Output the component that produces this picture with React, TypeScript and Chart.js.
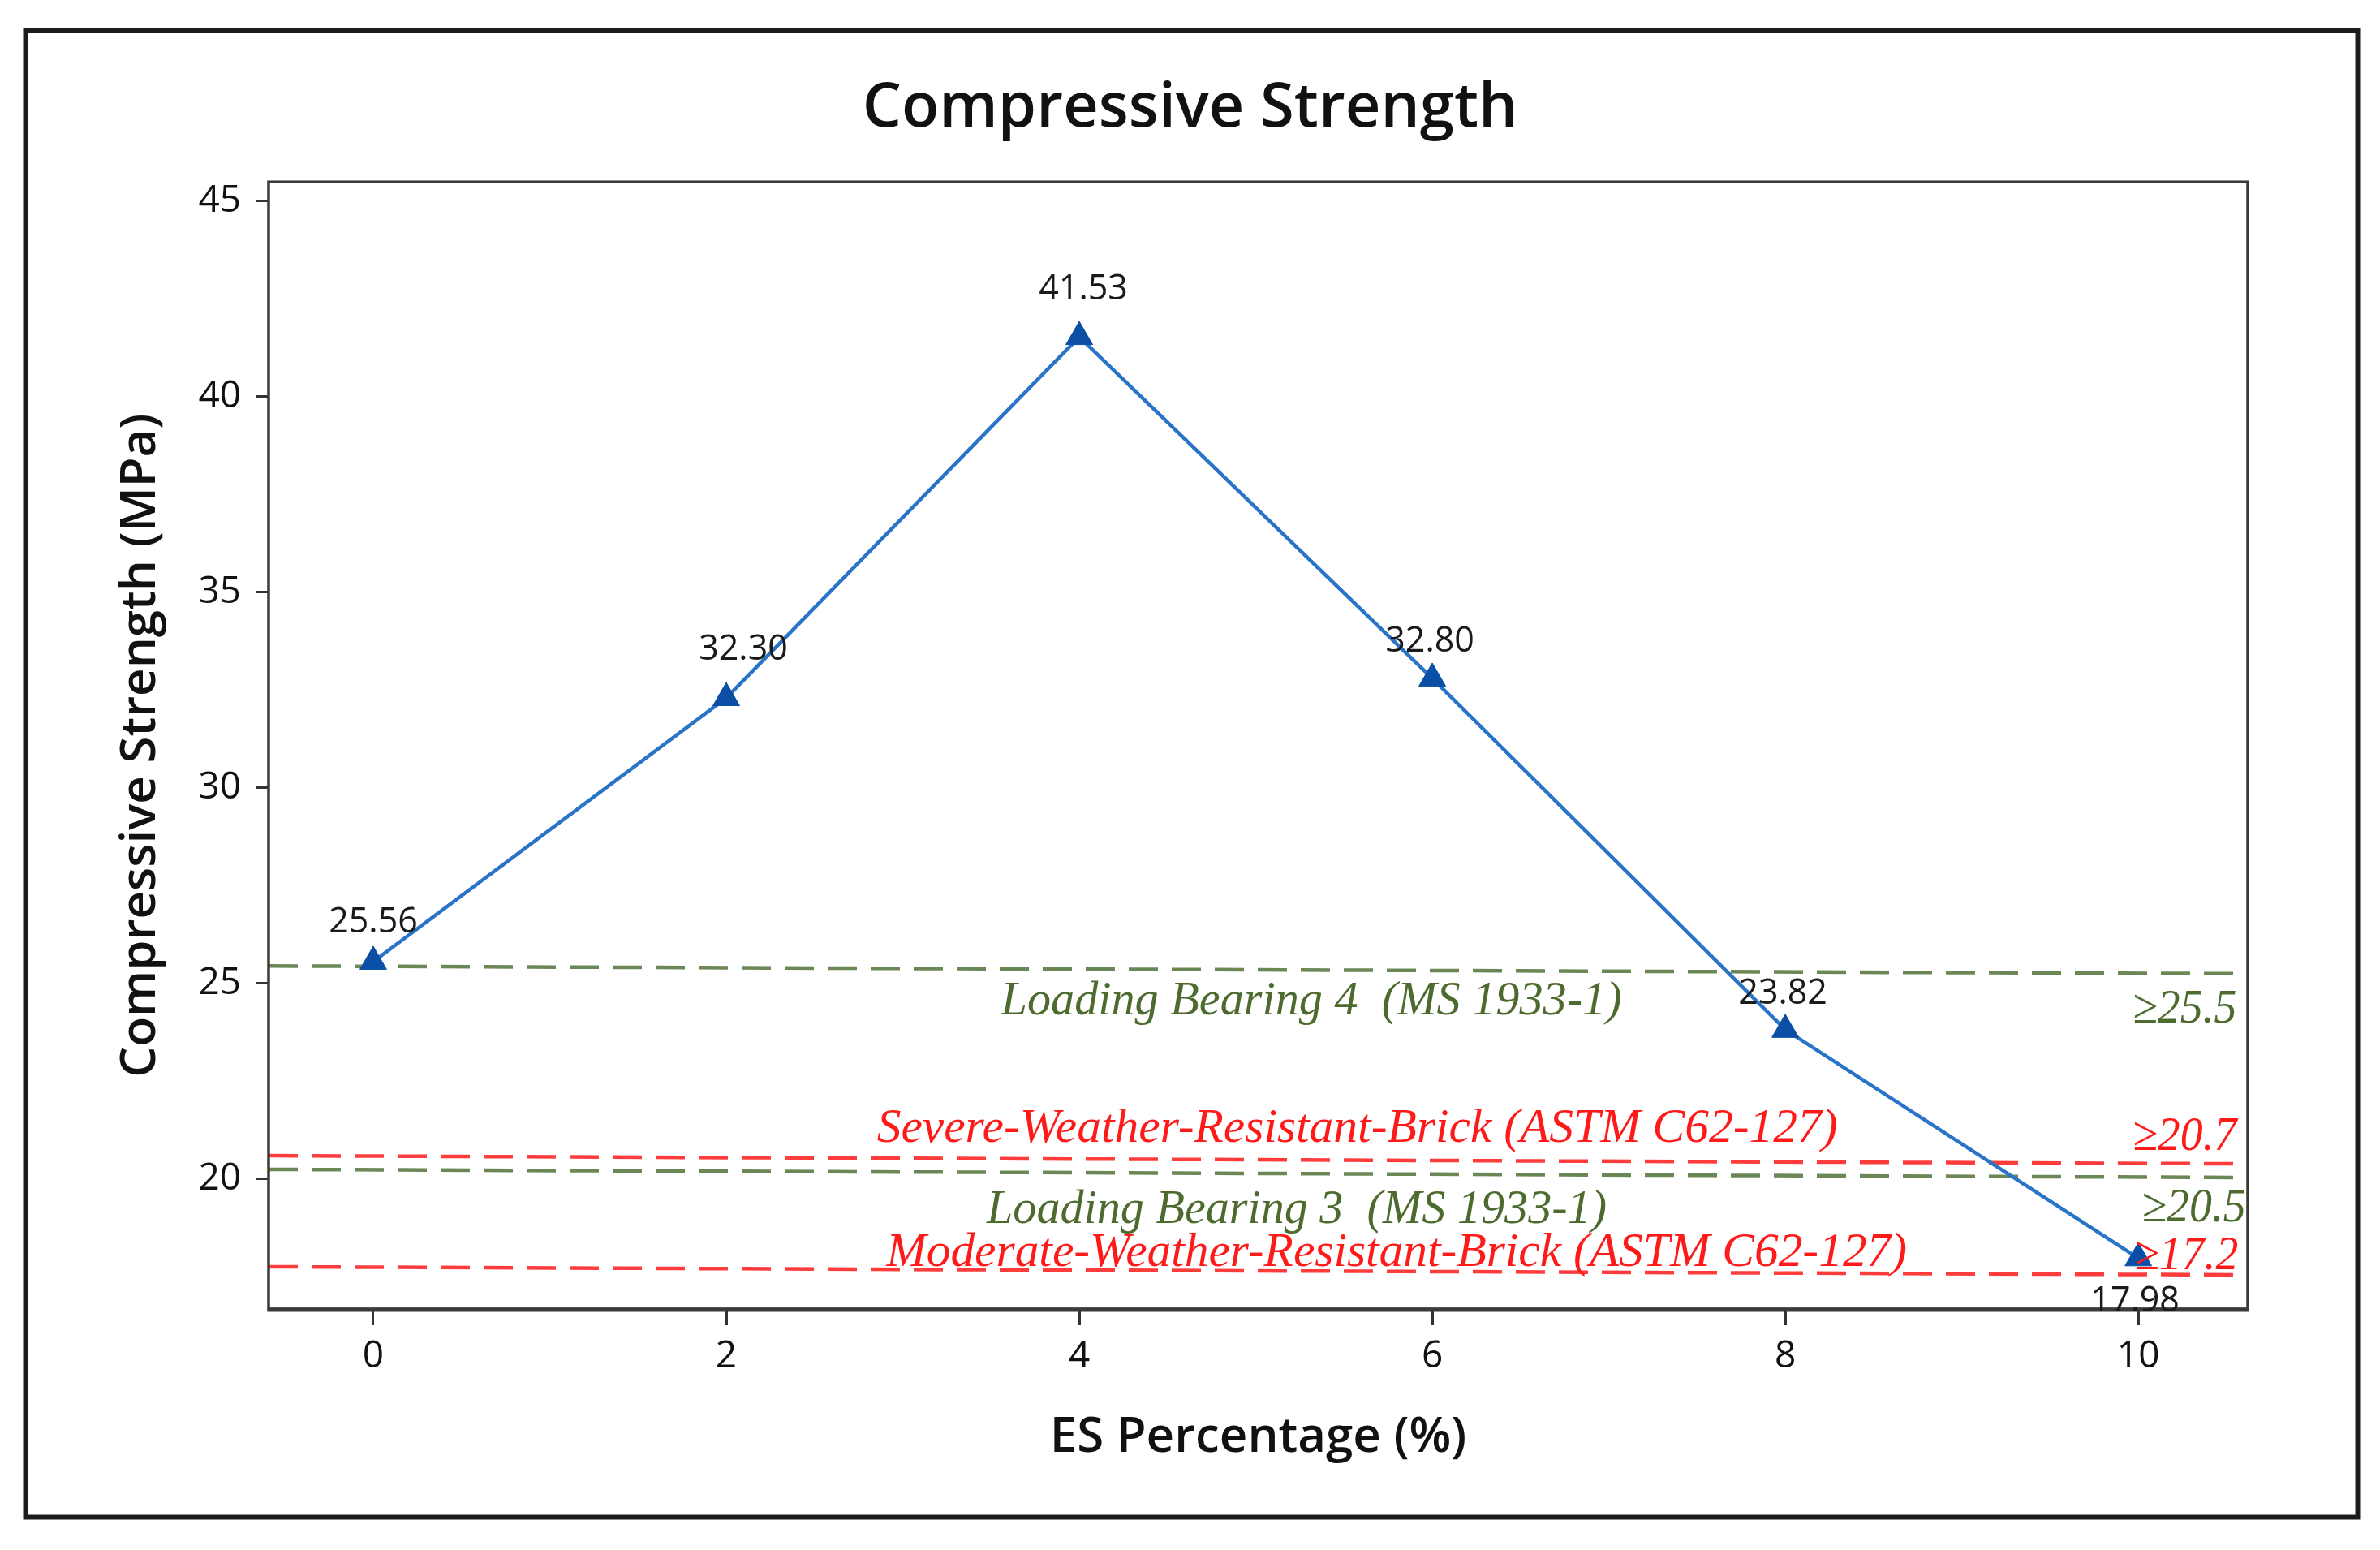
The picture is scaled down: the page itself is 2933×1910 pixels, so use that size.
import React, { useEffect, useRef } from "react";
import { Chart, registerables } from "chart.js";

Chart.register(...registerables);

// ---------------- data ----------------
const esPercent = [0, 2, 4, 6, 8, 10];
const strength = [25.56, 32.3, 41.53, 32.8, 23.82, 17.98];

const xTicks = [0, 2, 4, 6, 8, 10];
const yTicks = [20, 25, 30, 35, 40, 45];
const xRange = [-0.593, 10.62];
const yRange = [16.68, 45.49];

// reference (standard) lines: value at left edge and at right edge of the plot
const refNames = [
  "Loading Bearing 4  (MS 1933-1)",
  "Severe-Weather-Resistant-Brick (ASTM C62-127)",
  "Loading Bearing 3  (MS 1933-1)",
  "Moderate-Weather-Resistant-Brick (ASTM C62-127)",
];
const refValueTexts = ["\u226525.5", "\u226520.7", "\u226520.5", "\u226517.2"];
const refStart = [25.45, 20.6, 20.25, 17.76];
const refEnd = [25.25, 20.39, 20.04, 17.55];
const refKinds = ["green", "red", "green", "red"];
// label anchors in data units
const refNameX = [5.315, 5.575, 5.232, 5.798];
const refNameY = [24.21, 20.95, 18.88, 17.78];
const refValueX = [9.968, 9.968, 10.02, 9.977];
const refValueY = [24.01, 20.75, 18.92, 17.7];

// ---------------- styles ----------------
const SANS = "'Open Sans', 'Noto Sans', sans-serif";
const SERIF = "'Liberation Serif', 'DejaVu Serif', serif";
const lineColors: Record<string, string> = { green: "#6b8756", red: "#ff3c3c" };
const textColors: Record<string, string> = { green: "#4d6b2f", red: "#ff1a1a" };
const refNameWidths = [765, 1184, 764, 1258];
const valueScaleX = 0.93;
// value-label offsets from their point (pixels)
const labelDx = [0, 21, 5, -3, -3, -4];
const labelDy = [-48, -59, -58, -45, -44, 53];

const decorPlugin = {
  id: "decor",
  beforeDraw(chart: any) {
    const ctx = chart.ctx;
    ctx.save();
    ctx.fillStyle = "#ffffff";
    ctx.fillRect(0, 0, chart.width, chart.height);
    ctx.strokeStyle = "#1c1c1c";
    ctx.lineWidth = 6;
    ctx.strokeRect(31.5, 38, 2874, 1831.5);
    ctx.restore();
  },
  afterDatasetsDraw(chart: any) {
    const ctx = chart.ctx;
    const a = chart.chartArea;
    const xs = chart.scales.x;
    const ys = chart.scales.y;

    // plot box
    ctx.save();
    ctx.strokeStyle = "#3a3a3a";
    ctx.lineWidth = 3.5;
    ctx.strokeRect(a.left, a.top, a.right - a.left, a.bottom - a.top);
    ctx.lineWidth = 5;
    ctx.beginPath();
    ctx.moveTo(a.left - 1.5, a.bottom + 1);
    ctx.lineTo(a.right + 1.5, a.bottom + 1);
    ctx.stroke();
    ctx.restore();

    // data labels
    ctx.save();
    ctx.font = `500 43px ${SANS}`;
    ctx.fillStyle = "#1a1a1a";
    ctx.textAlign = "center";
    ctx.textBaseline = "middle";
    strength.forEach((v, i) => {
      const px = xs.getPixelForValue(esPercent[i]);
      const py = ys.getPixelForValue(v);
      ctx.fillText(v.toFixed(2), px + labelDx[i], py + labelDy[i]);
    });
    ctx.restore();

    // annotation texts
    ctx.save();
    ctx.beginPath();
    ctx.rect(a.left, a.top, a.right - a.left, a.bottom - a.top);
    ctx.clip();
    ctx.font = `italic 60px ${SERIF}`;
    ctx.textBaseline = "alphabetic";
    refNames.forEach((t, i) => {
      ctx.fillStyle = textColors[refKinds[i]];
      const px = xs.getPixelForValue(refNameX[i]);
      const py = ys.getPixelForValue(refNameY[i]);
      const w = ctx.measureText(t).width;
      const sx = refNameWidths[i] / w;
      ctx.save();
      ctx.translate(px, py);
      ctx.scale(sx, 1);
      ctx.textAlign = "center";
      ctx.fillText(t, 0, 0);
      ctx.restore();
    });
    refValueTexts.forEach((t, i) => {
      ctx.fillStyle = textColors[refKinds[i]];
      const px = xs.getPixelForValue(refValueX[i]);
      const py = ys.getPixelForValue(refValueY[i]);
      ctx.save();
      ctx.translate(px, py);
      ctx.scale(valueScaleX, 1);
      ctx.textAlign = "left";
      ctx.fillText(t, 0, 0);
      ctx.restore();
    });
    ctx.restore();
  },
};

export default function App() {
  const ref = useRef<HTMLCanvasElement | null>(null);

  useEffect(() => {
    if (!ref.current) return;
    const mainData = esPercent.map((x, i) => ({ x, y: strength[i] }));
    const refSets = refStart.map((s, i) => ({
      label: refNames[i],
      data: [
        { x: xRange[0], y: s },
        { x: xRange[1], y: refEnd[i] },
      ],
      borderColor: lineColors[refKinds[i]],
      borderWidth: 4.5,
      borderDash: [36, 17],
      pointRadius: 0,
      fill: false,
      tension: 0,
    }));

    const chart = new Chart(ref.current, {
      type: "line",
      data: {
        datasets: [
          {
            label: "Compressive Strength",
            data: mainData,
            borderColor: "#2a74c8",
            borderWidth: 4.5,
            pointStyle: "triangle",
            pointRadius: 19,
            pointBackgroundColor: "#0a4fa5",
            pointBorderColor: "#0a4fa5",
            pointBorderWidth: 1,
            fill: false,
            tension: 0,
          },
          ...refSets,
        ] as any,
      },
      options: {
        animation: false,
        responsive: false,
        devicePixelRatio: 1,
        layout: { padding: { left: 163, right: 163, top: 0, bottom: 60 } },
        plugins: {
          legend: { display: false },
          tooltip: { enabled: false },
          title: {
            display: true,
            text: "Compressive Strength",
            color: "#111111",
            font: { family: SANS, size: 76, weight: "600", lineHeight: 1.2 },
            padding: { top: 89, bottom: 44 },
          },
        },
        scales: {
          x: {
            type: "linear",
            min: xRange[0],
            max: xRange[1],
            afterBuildTicks: (s: any) => {
              s.ticks = xTicks.map((v) => ({ value: v }));
            },
            afterFit: (s: any) => {
              s.height = 237;
            },
            ticks: {
              color: "#111111",
              font: { family: SANS, size: 46, weight: "500" },
              padding: 11,
              autoSkip: false,
              maxRotation: 0,
              callback: (v: any) => String(v),
            },
            grid: {
              display: true,
              drawOnChartArea: false,
              drawTicks: true,
              tickLength: 20,
              tickWidth: 3,
              tickColor: "#333333",
            },
            border: { display: false },
            title: {
              display: true,
              text: "ES Percentage (%)",
              color: "#111111",
              font: { family: SANS, size: 60, weight: "600", lineHeight: 1.2 },
              padding: { top: 0, bottom: 42 },
            },
          },
          y: {
            type: "linear",
            min: yRange[0],
            max: yRange[1],
            afterBuildTicks: (s: any) => {
              s.ticks = yTicks.map((v) => ({ value: v }));
            },
            afterFit: (s: any) => {
              s.width = 168;
            },
            ticks: {
              color: "#111111",
              font: { family: SANS, size: 46, weight: "500" },
              padding: 19,
              autoSkip: false,
              callback: (v: any) => String(v),
            },
            grid: {
              display: true,
              drawOnChartArea: false,
              drawTicks: true,
              tickLength: 15,
              tickWidth: 3,
              tickColor: "#333333",
            },
            border: { display: false },
            title: {
              display: true,
              text: "Compressive Strength (MPa)",
              color: "#111111",
              font: { family: SANS, size: 60, weight: "600", lineHeight: 1.2 },
              padding: { top: -25, bottom: 0 },
            },
          },
        },
      } as any,
      plugins: [decorPlugin],
    });
    return () => chart.destroy();
  }, []);

  return (
    <div
      style={{
        position: "fixed",
        left: 0,
        top: 0,
        width: 2933,
        height: 1910,
        background: "#ffffff",
      }}
    >
      <canvas
        ref={ref}
        width={2933}
        height={1910}
        style={{ width: 2933, height: 1910, display: "block" }}
      />
    </div>
  );
}
